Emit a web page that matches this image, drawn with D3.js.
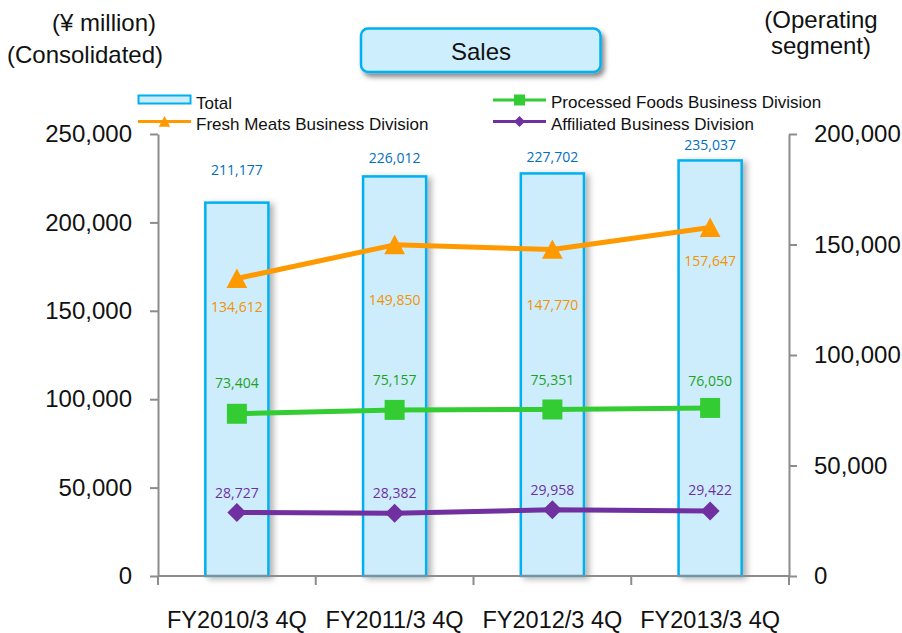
<!DOCTYPE html>
<html>
<head>
<meta charset="utf-8">
<script src="https://cdn.jsdelivr.net/npm/d3@7"></script>
<style>
  html, body { margin: 0; padding: 0; background: #fff; }
  svg { display: block; }
</style>
</head>
<body>
<svg id="chart" width="902" height="633"></svg>
<script>
// Quarterly sales, ¥ million
const periods = ["FY2010/3 4Q", "FY2011/3 4Q", "FY2012/3 4Q", "FY2013/3 4Q"];
const totalSales = [211177, 226012, 227702, 235037];          // consolidated (left axis)
const freshMeats = [134612, 149850, 147770, 157647];           // operating segment (right axis)
const processedFoods = [73404, 75157, 75351, 76050];
const affiliated = [28727, 28382, 29958, 29422];
const leftTicks = [0, 50000, 100000, 150000, 200000, 250000];
const rightTicks = [0, 50000, 100000, 150000, 200000];

const svg = d3.select("#chart");
const defs = svg.append("defs");

defs.append("filter").attr("id", "barShadow")
  .attr("x", "-20%").attr("y", "-5%").attr("width", "160%").attr("height", "115%")
  .append("feDropShadow")
  .attr("dx", 4).attr("dy", 2).attr("stdDeviation", 3)
  .attr("flood-color", "#000").attr("flood-opacity", 0.3);

defs.append("filter").attr("id", "boxShadow")
  .attr("x", "-10%").attr("y", "-30%").attr("width", "130%").attr("height", "180%")
  .append("feDropShadow")
  .attr("dx", 3).attr("dy", 4).attr("stdDeviation", 2.5)
  .attr("flood-color", "#000").attr("flood-opacity", 0.45);

const plot = { left: 158, right: 789, top: 134, bottom: 576 };

const x = d3.scaleBand()
  .domain(periods)
  .range([plot.left, plot.right])
  .paddingInner(0.6)
  .paddingOuter(0.3);
const step = x.step();
const cx = d => x(d) + x.bandwidth() / 2;

const yL = d3.scaleLinear().domain([0, 250000]).range([plot.bottom, plot.top]);
const yR = d3.scaleLinear().domain([0, 200000]).range([plot.bottom, plot.top]);

const axisColor = "#8c8c8c";
const fmt = d3.format(",");

// ---- header texts ----
const hdr = svg.append("g")
  .attr("font-family", "'Liberation Sans', Arial, sans-serif")
  .attr("font-size", 24).attr("fill", "#111");
hdr.append("text").attr("x", 104).attr("y", 31).attr("text-anchor", "middle").text("(¥ million)");
hdr.append("text").attr("x", 85).attr("y", 63).attr("text-anchor", "middle").text("(Consolidated)");
hdr.append("text").attr("x", 821).attr("y", 28).attr("text-anchor", "middle").text("(Operating");
hdr.append("text").attr("x", 821).attr("y", 54).attr("text-anchor", "middle").text("segment)");

// ---- title box ----
const title = svg.append("g");
title.append("rect")
  .attr("x", 361).attr("y", 28.5).attr("width", 239.5).attr("height", 43.5)
  .attr("rx", 7).attr("ry", 7)
  .attr("fill", "#cdeefd").attr("stroke", "#00b0f0").attr("stroke-width", 2.5)
  .attr("filter", "url(#boxShadow)");
title.append("text")
  .attr("x", 481).attr("y", 59.5).attr("text-anchor", "middle")
  .attr("font-family", "'Liberation Sans', Arial, sans-serif")
  .attr("font-size", 24).attr("fill", "#111").text("Sales");

// ---- bars (total, left axis) ----
svg.append("g").selectAll("rect")
  .data(periods)
  .join("rect")
  .attr("x", d => x(d))
  .attr("width", x.bandwidth())
  .attr("y", (d, i) => yL(totalSales[i]))
  .attr("height", (d, i) => plot.bottom - yL(totalSales[i]))
  .attr("fill", "#cdedfd")
  .attr("stroke", "#00b0f0")
  .attr("stroke-width", 2.5)
  .attr("filter", "url(#barShadow)");

// ---- axes ----
function styleAxis(g) {
  g.select(".domain").attr("stroke", axisColor).attr("stroke-width", 2);
  g.selectAll(".tick line").attr("stroke", axisColor).attr("stroke-width", 2);
  g.selectAll(".tick text")
    .attr("font-family", "'Liberation Sans', Arial, sans-serif")
    .attr("font-size", 24).attr("fill", "#111");
}

svg.append("g")
  .attr("transform", `translate(${plot.left},0)`)
  .call(d3.axisLeft(yL).tickValues(leftTicks).tickFormat(fmt).tickSizeInner(8).tickSizeOuter(0).tickPadding(18))
  .call(styleAxis);

svg.append("g")
  .attr("transform", `translate(${plot.right},0)`)
  .call(d3.axisRight(yR).tickValues(rightTicks).tickFormat(fmt).tickSizeInner(8).tickSizeOuter(0).tickPadding(17))
  .call(styleAxis);

// category axis: ticks sit between categories, labels under each category
const xAxis = svg.append("g");
xAxis.append("line")
  .attr("x1", plot.left).attr("x2", plot.right)
  .attr("y1", plot.bottom).attr("y2", plot.bottom)
  .attr("stroke", axisColor).attr("stroke-width", 2);
xAxis.selectAll("line.tick")
  .data(d3.range(periods.length + 1))
  .join("line")
  .attr("class", "tick")
  .attr("x1", i => plot.left + i * step).attr("x2", i => plot.left + i * step)
  .attr("y1", plot.bottom).attr("y2", plot.bottom + 9)
  .attr("stroke", axisColor).attr("stroke-width", 2);
xAxis.selectAll("text")
  .data(periods)
  .join("text")
  .attr("x", d => cx(d))
  .attr("y", 628)
  .attr("text-anchor", "middle")
  .attr("font-family", "'Liberation Sans', Arial, sans-serif")
  .attr("font-size", 23.5).attr("fill", "#111")
  .text(d => d);

// ---- segment lines (right axis) ----
const series = [
  { name: "Processed Foods Business Division", values: processedFoods, color: "#33cc33", label: "#1fa31f", marker: "square" },
  { name: "Affiliated Business Division", values: affiliated, color: "#7030a0", label: "#7030a0", marker: "diamond" },
  { name: "Fresh Meats Business Division", values: freshMeats, color: "#ff9900", label: "#f39200", marker: "triangle" }
];

const markerPath = {
  triangle: s => `M0,${-s * 0.5}L${s * 0.52},${s * 0.47}L${-s * 0.52},${s * 0.47}Z`,
  square: s => `M${-s / 2},${-s / 2}h${s}v${s}h${-s}Z`,
  diamond: s => `M0,${-s / 2}L${s / 2},0L0,${s / 2}L${-s / 2},0Z`
};

const line = d3.line().x(d => cx(d.p)).y(d => yR(d.v));

series.forEach(s => {
  const pts = periods.map((p, i) => ({ p, v: s.values[i] }));
  const g = svg.append("g");
  g.append("path")
    .attr("d", line(pts))
    .attr("fill", "none")
    .attr("stroke", s.color)
    .attr("stroke-width", 5)
    .attr("stroke-linejoin", "round");
  g.selectAll("path.mk")
    .data(pts)
    .join("path")
    .attr("class", "mk")
    .attr("transform", d => `translate(${cx(d.p)},${yR(d.v)})`)
    .attr("d", markerPath[s.marker](s.marker === "diamond" ? 19 : 20))
    .attr("fill", s.color);
});

// ---- value labels ----
const labelFont = "'Open Sans', 'Noto Sans', sans-serif";
function valueLabels(values, yScale, dy, color) {
  svg.append("g").selectAll("text")
    .data(periods)
    .join("text")
    .attr("x", d => cx(d))
    .attr("y", (d, i) => yScale(values[i]) + dy[i])
    .attr("text-anchor", "middle")
    .attr("dominant-baseline", "central")
    .attr("font-family", labelFont)
    .attr("font-size", 14)
    .attr("fill", color)
    .text((d, i) => fmt(values[i]));
}
// per-label vertical nudges (px) relative to each mark
valueLabels(totalSales, yL, [-33, -19, -17, -16], "#0070c0");
valueLabels(freshMeats, yR, [28, 55, 55, 33], "#f39200");
valueLabels(processedFoods, yR, [-31, -30, -30, -27], "#1fa31f");
valueLabels(affiliated, yR, [-20, -21, -20, -21], "#7030a0");

// ---- legend ----
const lg = svg.append("g")
  .attr("font-family", "'Liberation Sans', Arial, sans-serif")
  .attr("font-size", 17).attr("fill", "#111");

lg.append("rect")
  .attr("x", 138.5).attr("y", 95.5).attr("width", 52).attr("height", 8)
  .attr("fill", "#cdedfd").attr("stroke", "#00b0f0").attr("stroke-width", 2);
lg.append("text").attr("x", 196).attr("y", 108.5).text("Total");

const legendLines = [
  { s: series[2], x: 138, y: 121.5, tx: 196, ty: 130 },
  { s: series[0], x: 493, y: 100, tx: 551, ty: 108 },
  { s: series[1], x: 493, y: 121.5, tx: 551, ty: 130 }
];
legendLines.forEach(o => {
  lg.append("line")
    .attr("x1", o.x).attr("x2", o.x + 53)
    .attr("y1", o.y).attr("y2", o.y)
    .attr("stroke", o.s.color).attr("stroke-width", 3);
  lg.append("path")
    .attr("transform", `translate(${o.x + 26.5},${o.y})`)
    .attr("d", markerPath[o.s.marker](11))
    .attr("fill", o.s.color);
  lg.append("text").attr("x", o.tx).attr("y", o.ty).text(o.s.name);
});
</script>
</body>
</html>
